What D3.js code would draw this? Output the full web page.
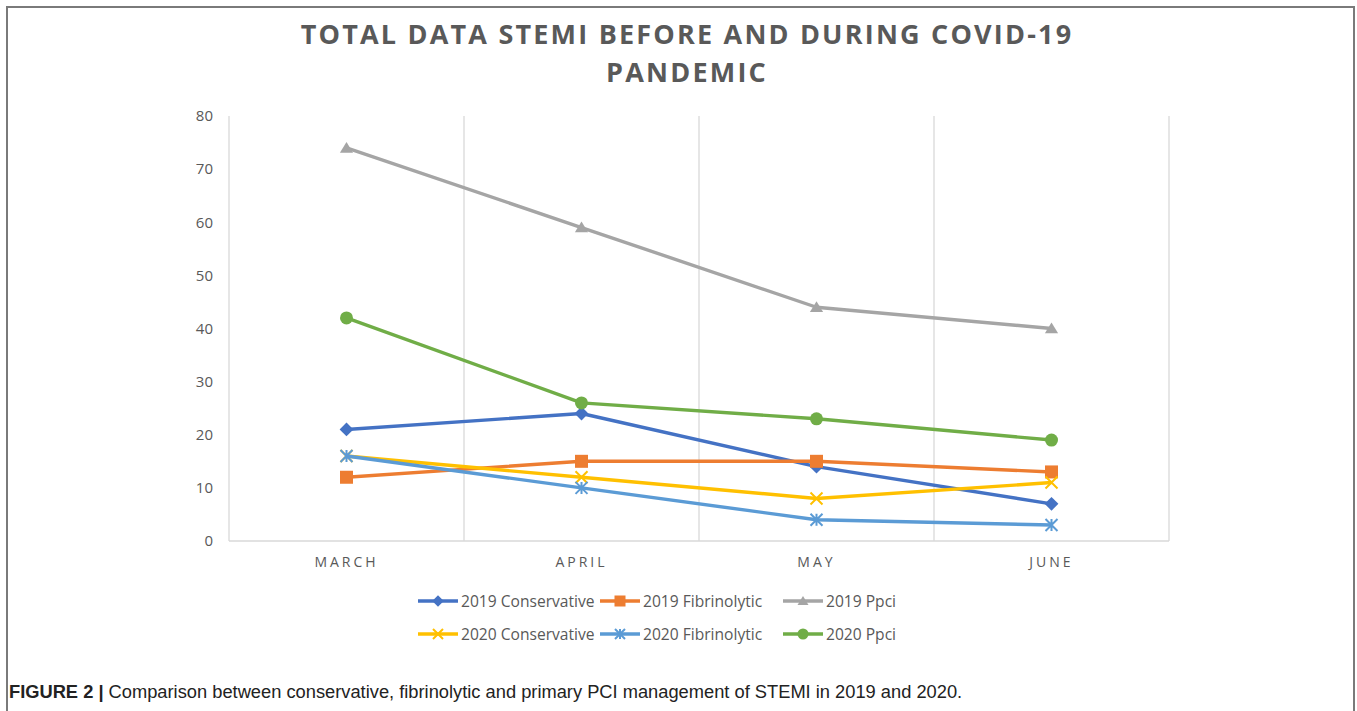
<!DOCTYPE html>
<html>
<head>
<meta charset="utf-8">
<script src="https://cdn.jsdelivr.net/npm/d3@7"></script>
<style>
  body { margin: 0; background: #fff; }
  svg { display: block; }
</style>
</head>
<body>
<div id="chart"></div>
<script>
// data
const months = ['MARCH', 'APRIL', 'MAY', 'JUNE'];
const yTicks = [0, 10, 20, 30, 40, 50, 60, 70, 80];
const seriesNames = ['2019 Conservative', '2019 Fibrinolytic', '2019 Ppci',
                     '2020 Conservative', '2020 Fibrinolytic', '2020 Ppci'];
const cons2019 = [21, 24, 14, 7];
const fibr2019 = [12, 15, 15, 13];
const ppci2019 = [74, 59, 44, 40];
const cons2020 = [16, 12, 8, 11];
const fibr2020 = [16, 10, 4, 3];
const ppci2020 = [42, 26, 23, 19];

const colors = ['#4472C4', '#ED7D31', '#A5A5A5', '#FFC000', '#5B9BD5', '#70AD47'];
const markers = ['diamond', 'square', 'triangle', 'x', 'star', 'circle'];

const series = [cons2019, fibr2019, ppci2019, cons2020, fibr2020, ppci2020].map((vals, i) => ({
    name: seriesNames[i], values: vals, color: colors[i], marker: markers[i]
}));

const W = 1357, H = 711;
const svg = d3.select('#chart').append('svg').attr('width', W).attr('height', H);

// outer frame
svg.append('rect').attr('x', 7).attr('y', 7).attr('width', 1347).attr('height', 720)
    .attr('fill', 'none').attr('stroke', '#7a7a7a').attr('stroke-width', 2);

// title
const title = svg.append('g').attr('font-family', 'Open Sans, sans-serif')
    .attr('font-weight', 'bold').attr('font-size', 27).attr('fill', '#595959')
    .attr('text-anchor', 'middle').attr('letter-spacing', 2.2);
title.append('text').attr('x', 687).attr('y', 44).text('TOTAL DATA STEMI BEFORE AND DURING COVID-19');
title.append('text').attr('x', 687).attr('y', 82).text('PANDEMIC');

const plotLeft = 229, plotRight = 1169, plotTop = 116, plotBottom = 541;

const x = d3.scaleBand().domain(months).range([plotLeft, plotRight]);
const y = d3.scaleLinear().domain([0, 80]).range([plotBottom, plotTop]);

// vertical gridlines at band edges
const edges = months.map(m => x(m)).concat([plotRight]);
svg.append('g').selectAll('line').data(edges).join('line')
    .attr('x1', d => d).attr('x2', d => d)
    .attr('y1', plotTop).attr('y2', plotBottom)
    .attr('stroke', '#d9d9d9').attr('stroke-width', 1.3);

// x axis baseline
svg.append('line').attr('x1', plotLeft).attr('x2', plotRight).attr('y1', plotBottom).attr('y2', plotBottom)
    .attr('stroke', '#d9d9d9').attr('stroke-width', 1.3);

// y axis labels
const yAxis = svg.append('g').attr('transform', `translate(${plotLeft},0)`)
    .call(d3.axisLeft(y).tickValues(yTicks).tickSize(0).tickPadding(16));
yAxis.select('.domain').remove();
yAxis.selectAll('text').attr('font-family', 'Open Sans, sans-serif')
    .attr('font-size', 15).attr('fill', '#595959');

// x axis labels
const xAxis = svg.append('g').attr('transform', `translate(0,${plotBottom})`)
    .call(d3.axisBottom(x).tickSize(0).tickPadding(16));
xAxis.select('.domain').remove();
xAxis.selectAll('text').attr('font-family', 'Open Sans, sans-serif')
    .attr('font-size', 14).attr('fill', '#595959').attr('letter-spacing', 3);

const cx = m => x(m) + x.bandwidth() / 2;

function drawMarker(g, type, color, size) {
    const s = size, h = s / 2;
    if (type === 'diamond') {
        const d = h * 1.15;
        g.append('path').attr('d', `M0,${-d}L${d},0L0,${d}L${-d},0Z`).attr('fill', color);
    } else if (type === 'square') {
        g.append('rect').attr('x', -h).attr('y', -h).attr('width', s).attr('height', s).attr('fill', color);
    } else if (type === 'triangle') {
        g.append('path').attr('d', `M0,${-h}L${h * 1.1},${h * 0.8}L${-h * 1.1},${h * 0.8}Z`).attr('fill', color);
    } else if (type === 'circle') {
        g.append('circle').attr('r', h).attr('fill', color);
    } else if (type === 'x') {
        g.append('path').attr('d', `M${-h},${-h}L${h},${h}M${-h},${h}L${h},${-h}`)
            .attr('stroke', color).attr('stroke-width', 2);
    } else if (type === 'star') {
        g.append('path').attr('d', `M${-h},${-h}L${h},${h}M${-h},${h}L${h},${-h}M0,${-h}L0,${h}`)
            .attr('stroke', color).attr('stroke-width', 2);
    }
}

const line = d3.line().x((d, i) => cx(months[i])).y(d => y(d));

series.forEach(s => {
    const g = svg.append('g');
    g.append('path').attr('d', line(s.values)).attr('fill', 'none')
        .attr('stroke', s.color).attr('stroke-width', 3.4).attr('stroke-linejoin', 'round');
    s.values.forEach((v, i) => {
        const mg = g.append('g').attr('transform', `translate(${cx(months[i])},${y(v)})`);
        drawMarker(mg, s.marker, s.color, s.marker === 'circle' || s.marker === 'square' ? 13 : 12);
    });
});

// legend
const legendX = [418, 600, 783];
const legendY = [601, 634];
series.forEach((s, i) => {
    const lx = legendX[i % 3], ly = legendY[Math.floor(i / 3)];
    const g = svg.append('g').attr('transform', `translate(${lx},${ly})`);
    g.append('line').attr('x1', 0).attr('x2', 40).attr('stroke', s.color).attr('stroke-width', 3.4);
    const mg = g.append('g').attr('transform', 'translate(20,0)');
    drawMarker(mg, s.marker, s.color, s.marker === 'circle' || s.marker === 'square' ? 11 : 10);
    g.append('text').attr('x', 43).attr('y', 5.5).attr('font-family', 'Open Sans, sans-serif')
        .attr('font-size', 15.6).attr('fill', '#595959').text(s.name);
});

// caption
const cap = svg.append('text').attr('x', 9).attr('y', 698)
    .attr('font-family', 'Liberation Sans, Arial, sans-serif').attr('font-size', 18.3).attr('fill', '#222');
cap.append('tspan').attr('font-weight', 'bold').text('FIGURE 2 | ');
cap.append('tspan').text('Comparison between conservative, fibrinolytic and primary PCI management of STEMI in 2019 and 2020.');
</script>
</body>
</html>
